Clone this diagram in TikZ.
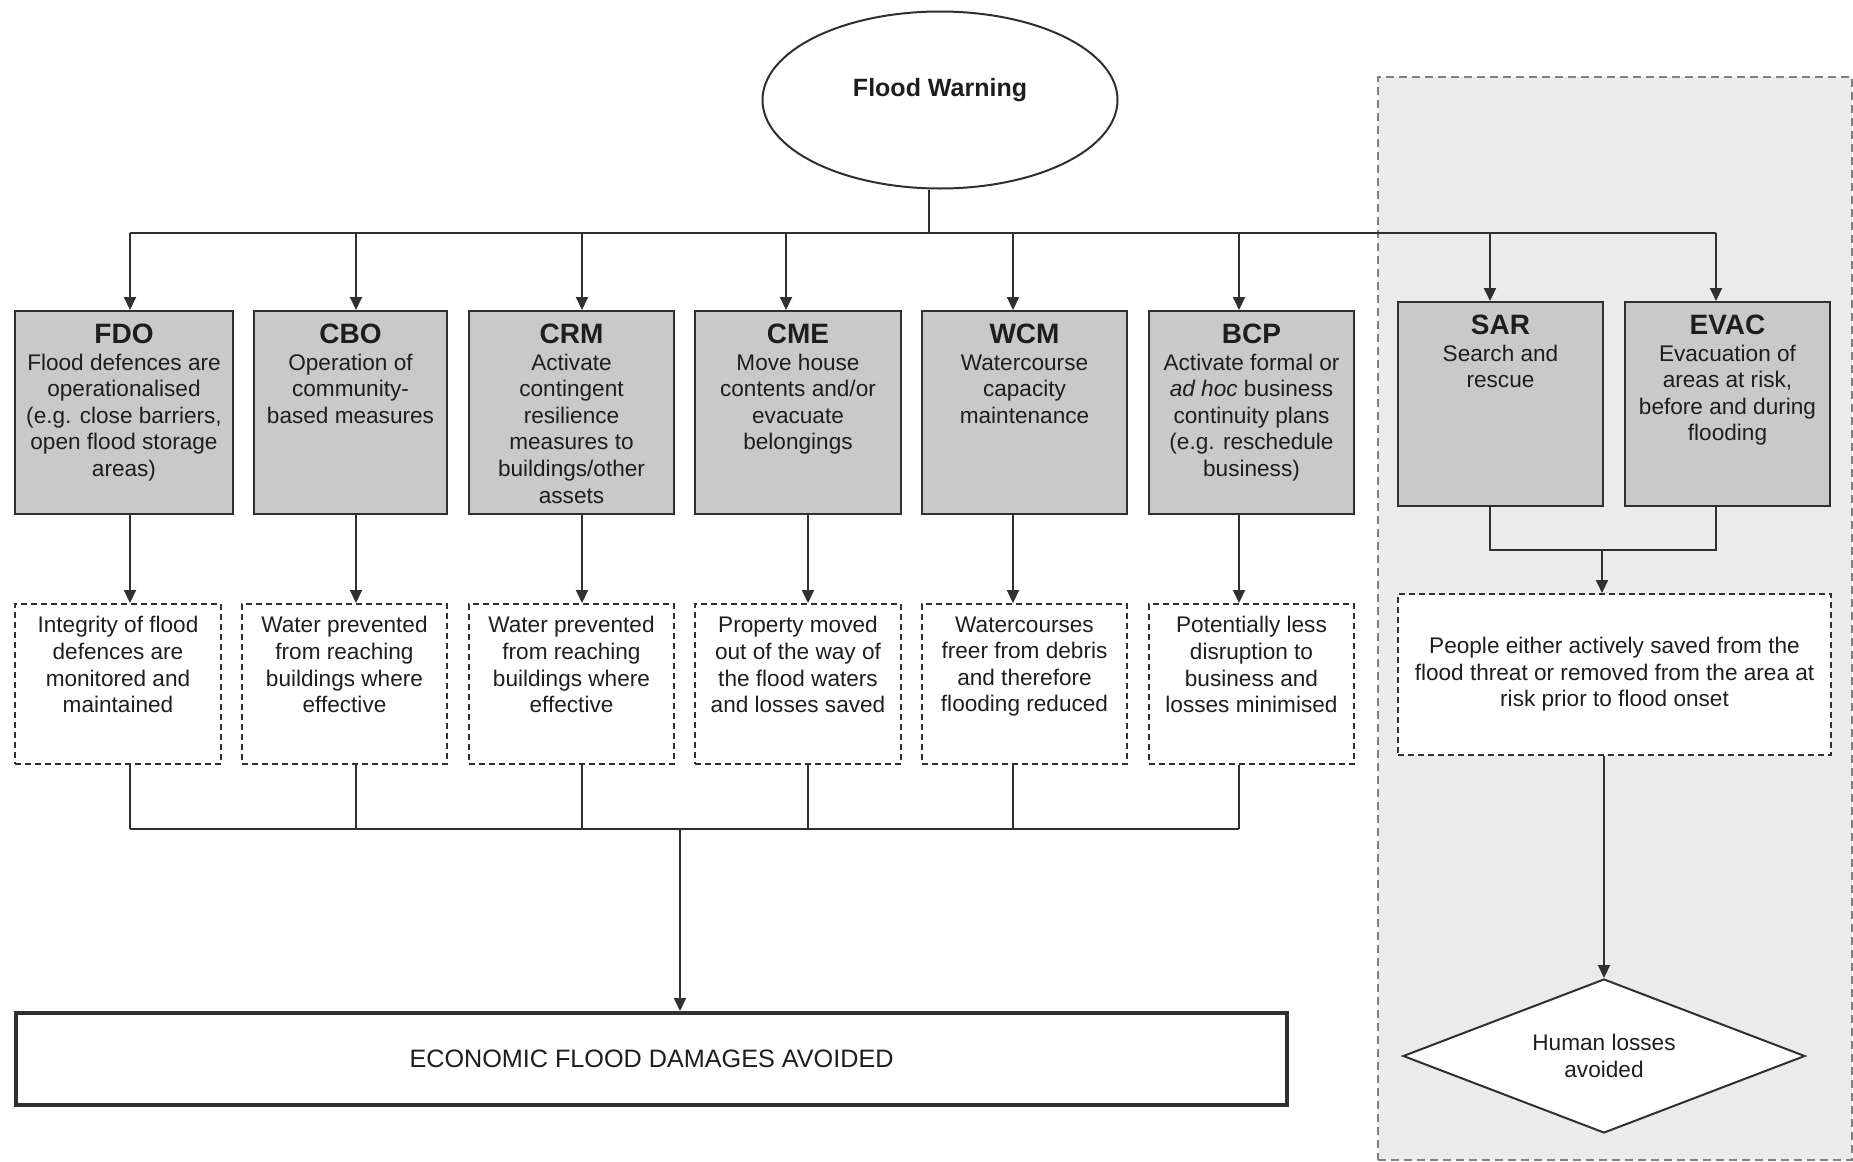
\documentclass[tikz,border=0pt]{standalone}
\usepackage{fontspec}
\setmainfont{Liberation Sans}
\usetikzlibrary{shapes.geometric,arrows.meta}
\definecolor{gfill}{HTML}{C9C9C9}
\definecolor{pfill}{HTML}{EBEBEB}
\definecolor{lnc}{HTML}{303030}
\definecolor{pline}{HTML}{808080}
\definecolor{txt}{HTML}{1E1E1E}
\newcommand{\myhfont}{\fontsize{14}{14}\selectfont\bfseries}
\newcommand{\mybfont}{\fontsize{11.3}{13.3}\selectfont}
\newcommand{\mygtext}[4]{\parbox[c][#2][t]{#1}{\centering\vspace*{6.5pt}{\myhfont #3\par}{\mybfont #4\par}}}
\newcommand{\mydtext}[3]{\parbox[c][#2][t]{#1}{\centering\vspace*{6.3pt}{\mybfont #3\par}}}
\begin{document}
\begin{tikzpicture}[x=0.5pt,y=-0.5pt,
  gbox/.style={draw=lnc, fill=gfill, line width=1pt, inner sep=0pt, anchor=north west, text=txt},
  dbox/.style={draw=lnc, dash pattern=on 3pt off 2pt, line width=1pt, fill=white, inner sep=0pt, anchor=north west, text=txt},
  panelbox/.style={draw=pline, fill=pfill, dash pattern=on 4pt off 2.5pt, line width=0.9pt, inner sep=0pt, anchor=north west},
  conn/.style={draw=lnc, line width=1pt},
  arr/.style={conn, -{Triangle[length=6.5pt,width=6pt]}}]
\useasboundingbox (0,0) rectangle (1853,1162);
\path[fill=white] (0,0) rectangle (1853,1162);

% right panel
\node[panelbox, minimum width=237pt, minimum height=541.5pt] (panel) at (1377,76) {};

% top ellipse
\node[ellipse, draw=lnc, line width=1pt, fill=white, minimum width=177.5pt, minimum height=88.5pt, inner sep=0pt] (fw) at (940,100) {};
\node[text=txt, font=\fontsize{12.5}{14}\selectfont\bfseries] (fwt) at (940,90) {Flood Warning};

% grey action boxes
\node[gbox] (fdo) at (14,310) {\mygtext{109pt}{101.5pt}{FDO}{Flood defences are\\operationalised\\(e.g. close barriers,\\open flood storage\\areas)}};
\node[gbox] (cbo) at (253,310) {\mygtext{96.5pt}{101.5pt}{CBO}{Operation of\\community-\\based measures}};
\node[gbox] (crm) at (468,310) {\mygtext{102.5pt}{101.5pt}{CRM}{Activate\\contingent\\resilience\\measures to\\buildings/other\\assets}};
\node[gbox] (cme) at (694,310) {\mygtext{103pt}{101.5pt}{CME}{Move house\\contents and/or\\evacuate\\belongings}};
\node[gbox] (wcm) at (921,310) {\mygtext{102.5pt}{101.5pt}{WCM}{Watercourse\\capacity\\maintenance}};
\node[gbox] (bcp) at (1148,310) {\mygtext{102.5pt}{101.5pt}{BCP}{Activate formal or\\\textit{ad hoc} business\\continuity plans\\(e.g. reschedule\\business)}};
\node[gbox] (sar) at (1397,301) {\mygtext{102.5pt}{102pt}{SAR}{Search and\\rescue}};
\node[gbox] (evac) at (1624,301) {\mygtext{102.5pt}{102pt}{EVAC}{Evacuation of\\areas at risk,\\before and during\\flooding}};

% dashed outcome boxes
\node[dbox] (fdod) at (14,603) {\mydtext{103pt}{80pt}{Integrity of flood\\defences are\\monitored and\\maintained}};
\node[dbox] (cbod) at (241,603) {\mydtext{102.5pt}{80pt}{Water prevented\\from reaching\\buildings where\\effective}};
\node[dbox] (crmd) at (468,603) {\mydtext{102.5pt}{80pt}{Water prevented\\from reaching\\buildings where\\effective}};
\node[dbox] (cmed) at (694,603) {\mydtext{103pt}{80pt}{Property moved\\out of the way of\\the flood waters\\and losses saved}};
\node[dbox] (wcmd) at (921,603) {\mydtext{102.5pt}{80pt}{Watercourses\\freer from debris\\and therefore\\flooding reduced}};
\node[dbox] (bcpd) at (1148,603) {\mydtext{102.5pt}{80pt}{Potentially less\\disruption to\\business and\\losses minimised}};
\node[dbox, minimum width=216.5pt, minimum height=80.5pt, align=center, font=\mybfont] (ppl) at (1397,593) {People either actively saved from the\\flood threat or removed from the area at\\risk prior to flood onset};

% final outcomes
\node[draw=lnc, line width=2pt, fill=white, minimum width=635.5pt, minimum height=46pt, anchor=north west, inner sep=0pt, font=\fontsize{12.6}{14}\selectfont, text=txt] (econ) at (14,1011) {ECONOMIC FLOOD DAMAGES AVOIDED};
\node[diamond, aspect=2.6, draw=lnc, line width=1pt, fill=white, minimum width=201pt, minimum height=77pt, inner sep=0pt, align=center, font=\mybfont, text=txt] (hum) at (1604,1056) {Human losses\\avoided};

% top distribution bus
\coordinate (bt) at (929,233);
\coordinate (bL) at (130,233);
\coordinate (bR) at (1716,233);
\draw[conn] (fw.south -| bt) -- (bt);
\draw[conn] (bL) -- (bR);
\foreach \x/\n in {130/fdo,356/cbo,582/crm,786/cme,1013/wcm,1239/bcp,1490/sar,1716/evac}{
  \coordinate (t\n) at (\x,233);
  \draw[arr] (t\n) -- (t\n |- \n.north);
}

% action -> outcome, outcome -> lower bus
\coordinate (lL) at (130,829);
\coordinate (lR) at (1239,829);
\foreach \x/\n in {130/fdo,356/cbo,582/crm,808/cme,1013/wcm,1239/bcp}{
  \coordinate (m\n) at (\x,560);
  \draw[arr] (m\n |- \n.south) -- (m\n |- \n d.north);
  \draw[conn] (m\n |- \n d.south) -- (m\n |- lL);
}
\draw[conn] (lL) -- (lR);
\coordinate (lj) at (680,829);
\draw[arr] (lj) -- (lj |- econ.north);

% SAR / EVAC merge
\coordinate (sj) at (1602,550);
\draw[conn] (tsar |- sar.south) -- (tsar |- sj) -- (tevac |- sj) -- (tevac |- evac.south);
\draw[arr] (sj) -- (sj |- ppl.north);
\draw[arr] (hum.north |- ppl.south) -- (hum.north);
\end{tikzpicture}
\end{document}
